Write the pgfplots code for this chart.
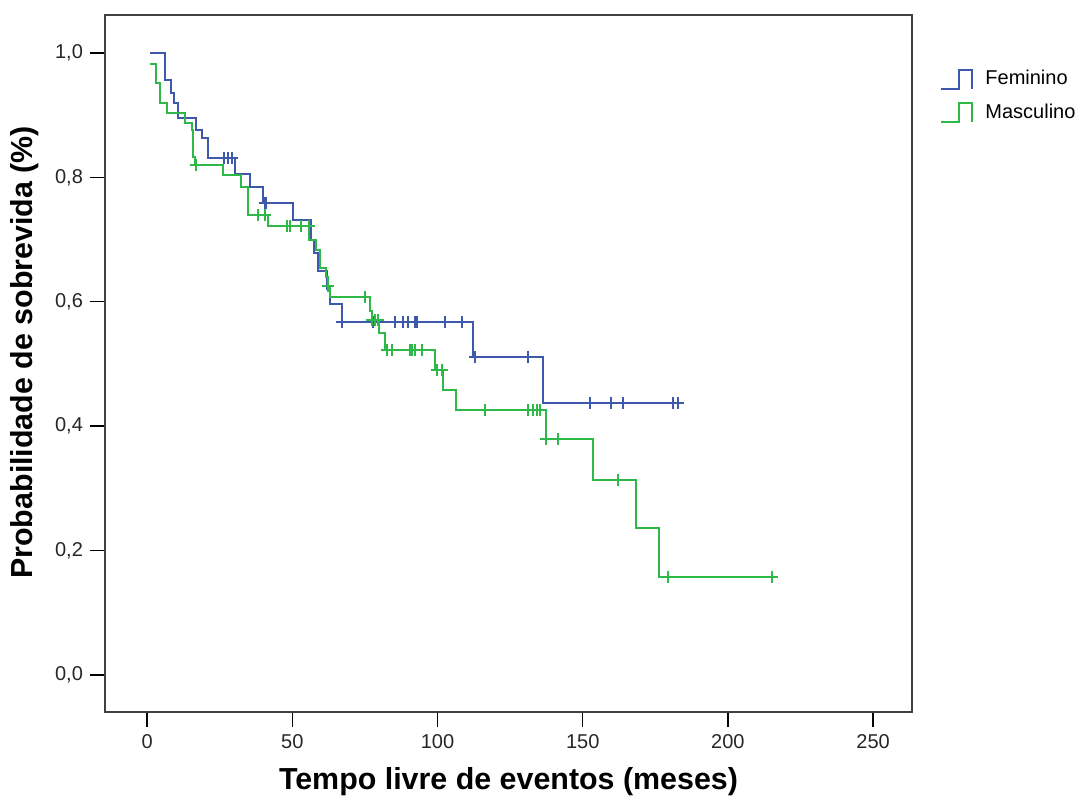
\documentclass[border=0pt]{standalone}
\usepackage{fontspec}
\setmainfont{Liberation Sans}
\usepackage{pgfplots}
\pgfplotsset{compat=1.18}
\definecolor{kmblue}{RGB}{62,88,172}
\definecolor{kmgreen}{RGB}{46,184,72}
\begin{document}
\begin{tikzpicture}
\useasboundingbox (-52.5pt,-43.5pt) rectangle (490pt,356pt);
\begin{axis}[
  scale only axis,
  width=403.5pt, height=348.5pt,
  xmin=-14.5, xmax=263.4,
  ymin=-0.0595, ymax=1.061,
  xtick={0,50,100,150,200,250},
  ytick={0,0.2,0.4,0.6,0.8,1.0},
  xtick pos=bottom, ytick pos=left,
  tick align=outside,
  major tick length=7.5pt,
  tick style={black, line width=0.7pt},
  axis line style={black!75, line width=0.7pt},
  ticklabel style={font=\fontsize{10}{12}\selectfont, text=black!85},
  yticklabel style={/pgf/number format/.cd, fixed, fixed zerofill, precision=1, use comma},
  /pgf/number format/assume math mode=true,
  xlabel={Tempo livre de eventos (meses)},
  ylabel={Probabilidade de sobrevida (\%)},
  label style={font=\bfseries\fontsize{15.2}{17}\selectfont},
  xlabel style={at={(axis description cs:0.5,-0.1004)}, anchor=center},
  ylabel style={at={(axis description cs:-0.099,0.516)}, anchor=center, rotate=0},
  legend image code/.code={\draw[#1] (0pt,-4.75pt) -- (9pt,-4.75pt) -- (9pt,4.75pt) -- (15.5pt,4.75pt) -- (15.5pt,-4.75pt); \path (19.5pt,0pt);},
  legend style={at={(axis description cs:1,1)}, anchor=north west, xshift=11pt, yshift=-23.5pt,
    draw=none, fill=none, font=\fontsize{10}{12}\selectfont, row sep=4pt},
  legend cell align=left,
]
\addlegendimage{kmblue, line width=1pt}
\addlegendentry{Feminino}
\addlegendimage{kmgreen, line width=1pt}
\addlegendentry{Masculino}

% Feminino
\addplot[const plot, kmblue, line width=1pt, forget plot] coordinates {
(1,1.0) (6,0.957) (8.2,0.935) (9.2,0.919) (10.5,0.895) (17,0.876) (19,0.863)
(21,0.831) (30.2,0.806) (35.4,0.785) (40,0.759) (50.3,0.731) (56.3,0.70)
(57.5,0.678) (59,0.65) (62,0.62) (63,0.597) (67,0.568) (112.3,0.512)
(136.4,0.438) (184.6,0.438)
};
\addplot[only marks, mark=+, mark size=3pt, kmblue, line width=1pt, forget plot] coordinates {
(26.5,0.831) (27.9,0.831) (29.1,0.831)
(40.5,0.759) (41,0.759)
(67,0.568) (77.9,0.568) (85.3,0.568) (88.2,0.568) (89.9,0.568) (92.2,0.568) (93.1,0.568) (102.5,0.568) (108.3,0.568)
(112.8,0.512) (131.2,0.512)
(152.5,0.438) (159.9,0.438) (164,0.438) (181.2,0.438) (182.9,0.438)
};

% Masculino
\addplot[const plot, kmgreen, line width=1pt, forget plot] coordinates {
(1,0.983) (2.9,0.951) (4.4,0.919) (6.7,0.903) (13,0.887) (15.3,0.876)
(15.9,0.833) (16.5,0.82) (26.2,0.804) (32.5,0.785) (34.8,0.74) (41.5,0.722)
(55.9,0.70) (58.2,0.683) (59.5,0.655) (61.5,0.64) (62.3,0.625) (63,0.608)
(76.7,0.585) (77.5,0.57) (80,0.55) (82,0.522) (99.1,0.49) (102,0.458)
(106.5,0.426) (137.2,0.38) (153.4,0.314) (168.2,0.236) (176.2,0.158)
(216.7,0.158)
};
\addplot[only marks, mark=+, mark size=3pt, kmgreen, line width=1pt, forget plot] coordinates {
(17,0.82)
(38.3,0.74) (40.5,0.74)
(48.1,0.722) (49.3,0.722) (52.9,0.722) (55.9,0.722)
(62.3,0.625) (75.2,0.608)
(77.3,0.57) (78.5,0.57) (79.5,0.57)
(82.5,0.522) (84.2,0.522) (90.5,0.522) (91.3,0.522) (92.2,0.522) (94.5,0.522)
(99.7,0.49) (101.4,0.49)
(116.3,0.426) (131.2,0.426) (132.9,0.426) (134.1,0.426) (135.3,0.426)
(137.5,0.38) (141.5,0.38)
(162.2,0.314)
(179.2,0.158) (215.2,0.158)
};
\end{axis}
\end{tikzpicture}
\end{document}
